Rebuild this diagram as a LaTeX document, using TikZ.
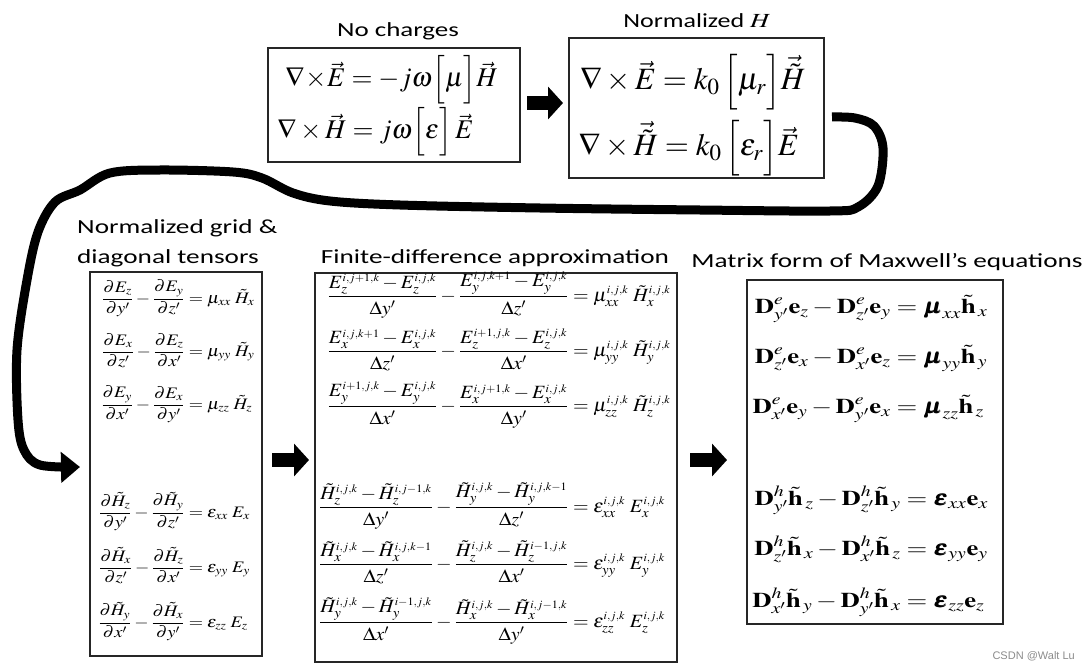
\documentclass[tikz,border=0pt]{standalone}
\usepackage{mathptmx}
\usepackage{amsmath}
\usepackage{bm}
\usepackage{graphicx}
\usepackage[no-math]{fontspec}
\newfontfamily\labfont{Carlito}
\newfontfamily\wmfont{Liberation Sans}
\usetikzlibrary{arrows.meta}
\newcommand\EQ[2]{\makebox[0pt][r]{$\displaystyle #1$}$\displaystyle{}={}$\makebox[0pt][l]{$\displaystyle #2$}}
\newcommand\SEQ[3]{\scalebox{#1}[1]{\EQ{#2}{#3}}}
\newcommand\SEQV[4]{\scalebox{#1}[#2]{\EQ{#3}{#4}}}
\newcommand\SL[2]{\scalebox{#1}[1]{#2}}
\newcommand\sk[1]{{\scriptscriptstyle #1}}
\newcommand\ijk{\sk{i,j,k}}
\newcommand\bD{\mathbf{D}}
\newcommand\bh{\tilde{\mathbf{h}}}
\newcommand\be{\mathbf{e}}
\tikzset{
  box/.style={draw=black!85, line width=1.6pt, inner sep=0pt, outer sep=0pt},
  lab/.style={font=\labfont\fontsize{20}{24}\selectfont, inner sep=0pt},
  eqA/.style={anchor=base, inner sep=0pt, font=\fontsize{27}{32}\selectfont},
  eqB/.style={anchor=base, inner sep=0pt, font=\fontsize{31}{36}\selectfont},
  eqC/.style={anchor=base, inner sep=0pt, font=\fontsize{16}{19}\selectfont},
  eqM/.style={anchor=base, inner sep=0pt, font=\fontsize{17}{20}\selectfont},
  eqD/.style={anchor=base, inner sep=0pt, font=\fontsize{21}{25}\selectfont},
  bigarrow/.style={line width=14pt, -{Triangle[length=15pt,width=32pt]}},
  looparrow/.style={line width=9pt, line join=round, -{Triangle[length=19pt,width=30pt]}},
}
\begin{document}
\begin{tikzpicture}[x=1pt,y=-1pt]
\useasboundingbox (0,0) rectangle (1091,671);
\fill[white] (0,0) rectangle (1091,671);

% boxes
\node[box, minimum width=252pt, minimum height=114pt] (b1) at (394,105) {};
\node[box, minimum width=255pt, minimum height=140pt] (b2) at (696.5,108) {};
\node[box, minimum width=172pt, minimum height=384pt] (lb) at (176,464) {};
\node[box, minimum width=362pt, minimum height=389pt] (mb) at (496,467.5) {};
\node[box, minimum width=256pt, minimum height=344pt] (rb) at (875,452) {};

% labels
\node[lab, anchor=base] (l1) at (398,37) {\SL{1.35}{No charges}};
\node[lab, anchor=base] (l2) at (697,28) {\SL{1.3}{Normalized $H$}};
\node[lab, anchor=base west] (l3a) at (77,233) {\SL{1.36}{Normalized grid \&}};
\node[lab, anchor=base west] (l3b) at (77,263) {\SL{1.36}{diagonal tensors}};
\node[lab, anchor=base] (l4) at (495,263) {\SL{1.36}{Finite-difference approximation}};
\node[lab, anchor=base] (l5) at (887,267) {\SL{1.36}{Matrix form of Maxwell’s equations}};

% box 1
\node[eqA] (e11) at (362,86.75) {\SEQ{1.0}{\nabla\!\times\!\vec{E}}{-j\omega\Big[\mu\Big]\vec{H}}};
\node[eqA] (e12) at (363,138.75) {\SEQ{1.0}{\nabla\times\vec{H}}{j\omega\Big[\varepsilon\Big]\,\vec{E}}};

% box 2
\node[eqB] (e21) at (675,89.75) {\SEQ{1.0}{\nabla\times\vec{E}}{k_0\,\Big[\mu_r\Big]\vec{\tilde{H}}}};
\node[eqB] (e22) at (677,155.75) {\SEQ{1.0}{\nabla\times\vec{\tilde{H}}}{k_0\,\Big[\varepsilon_r\Big]\vec{E}}};

% left box
\node[eqC] (e31) at (196,303) {\SEQ{1.15}{\frac{\partial E_z}{\partial y'}-\frac{\partial E_y}{\partial z'}}{\mu_{xx}\;\tilde{H}_x}};
\node[eqC] (e32) at (196,356) {\SEQ{1.15}{\frac{\partial E_x}{\partial z'}-\frac{\partial E_z}{\partial x'}}{\mu_{yy}\;\tilde{H}_y}};
\node[eqC] (e33) at (196,409) {\SEQ{1.15}{\frac{\partial E_y}{\partial x'}-\frac{\partial E_x}{\partial y'}}{\mu_{zz}\;\tilde{H}_z}};
\node[eqC] (e34) at (196,517) {\SEQ{1.15}{\frac{\partial \tilde{H}_z}{\partial y'}-\frac{\partial \tilde{H}_y}{\partial z'}}{\varepsilon_{xx}\;E_x}};
\node[eqC] (e35) at (196,572) {\SEQ{1.15}{\frac{\partial \tilde{H}_x}{\partial z'}-\frac{\partial \tilde{H}_z}{\partial x'}}{\varepsilon_{yy}\;E_y}};
\node[eqC] (e36) at (196,627) {\SEQ{1.15}{\frac{\partial \tilde{H}_y}{\partial x'}-\frac{\partial \tilde{H}_x}{\partial y'}}{\varepsilon_{zz}\;E_z}};

% middle box
\node[eqM] (e41) at (581,301.5) {\SEQV{1.18}{1.1}{\frac{E_z^{\sk{i,j+1,k}}-E_z^{\ijk}}{\Delta y'}-\frac{E_y^{\sk{i,j,k+1}}-E_y^{\ijk}}{\Delta z'}}{\mu_{xx}^{\ijk}\;\tilde{H}_x^{\ijk}}};
\node[eqM] (e42) at (581,356.5) {\SEQV{1.18}{1.1}{\frac{E_x^{\sk{i,j,k+1}}-E_x^{\ijk}}{\Delta z'}-\frac{E_z^{\sk{i+1,j,k}}-E_z^{\ijk}}{\Delta x'}}{\mu_{yy}^{\ijk}\;\tilde{H}_y^{\ijk}}};
\node[eqM] (e43) at (581,411.5) {\SEQV{1.18}{1.1}{\frac{E_y^{\sk{i+1,j,k}}-E_y^{\ijk}}{\Delta x'}-\frac{E_x^{\sk{i,j+1,k}}-E_x^{\ijk}}{\Delta y'}}{\mu_{zz}^{\ijk}\;\tilde{H}_z^{\ijk}}};
\node[eqM] (e44) at (581,512.5) {\SEQV{1.18}{1.1}{\frac{\tilde{H}_z^{\ijk}-\tilde{H}_z^{\sk{i,j-1,k}}}{\Delta y'}-\frac{\tilde{H}_y^{\ijk}-\tilde{H}_y^{\sk{i,j,k-1}}}{\Delta z'}}{\varepsilon_{xx}^{\ijk}\;E_x^{\ijk}}};
\node[eqM] (e45) at (581,569.5) {\SEQV{1.18}{1.1}{\frac{\tilde{H}_x^{\ijk}-\tilde{H}_x^{\sk{i,j,k-1}}}{\Delta z'}-\frac{\tilde{H}_z^{\ijk}-\tilde{H}_z^{\sk{i-1,j,k}}}{\Delta x'}}{\varepsilon_{yy}^{\ijk}\;E_y^{\ijk}}};
\node[eqM] (e46) at (581,627.5) {\SEQV{1.18}{1.1}{\frac{\tilde{H}_y^{\ijk}-\tilde{H}_y^{\sk{i-1,j,k}}}{\Delta x'}-\frac{\tilde{H}_x^{\ijk}-\tilde{H}_x^{\sk{i,j-1,k}}}{\Delta y'}}{\varepsilon_{zz}^{\ijk}\;E_z^{\ijk}}};

% right box
\node[eqD] (e51) at (907,313.25) {\SEQ{1.27}{\bD^{e}_{y'}\be_z-\bD^{e}_{z'}\be_y}{\bm{\mu}_{xx}\bh_{\,x}}};
\node[eqD] (e52) at (907,363.25) {\SEQ{1.27}{\bD^{e}_{z'}\be_x-\bD^{e}_{x'}\be_z}{\bm{\mu}_{yy}\bh_{\,y}}};
\node[eqD] (e53) at (907,413.25) {\SEQ{1.27}{\bD^{e}_{x'}\be_y-\bD^{e}_{y'}\be_x}{\bm{\mu}_{zz}\bh_{\,z}}};
\node[eqD] (e54) at (917,505.25) {\SEQ{1.27}{\bD^{h}_{y'}\bh_{\,z}-\bD^{h}_{z'}\bh_{\,y}}{\bm{\varepsilon}_{xx}\be_x}};
\node[eqD] (e55) at (917,555.25) {\SEQ{1.27}{\bD^{h}_{z'}\bh_{\,x}-\bD^{h}_{x'}\bh_{\,z}}{\bm{\varepsilon}_{yy}\be_y}};
\node[eqD] (e56) at (917,607.25) {\SEQ{1.27}{\bD^{h}_{x'}\bh_{\,y}-\bD^{h}_{y'}\bh_{\,x}}{\bm{\varepsilon}_{zz}\be_z}};

% straight block arrows
\draw[bigarrow] ([xshift=7pt,yshift=2pt]b1.east) -- ([xshift=-6pt,yshift=2pt]b1.east -| b2.west);
\draw[bigarrow] ([xshift=10pt,yshift=4pt]lb.east) -- ([xshift=-6pt,yshift=4pt]lb.east -| mb.west);
\draw[bigarrow] ([xshift=13pt,yshift=7.5pt]mb.east) -- ([xshift=-20pt,yshift=7.5pt]mb.east -| rb.west);

% hand-drawn loop arrow
\coordinate (cs) at ([xshift=8pt,yshift=-9pt]b2.east);
\coordinate (ce) at ([xshift=-10pt,yshift=-3pt]lb.west);
\draw[looparrow] plot[smooth, tension=0.55] coordinates {(cs) (855,118) (874,126) (883,148) (878,186) (858,207) (830,211) (700,210) (540,208) (400,205) (330,201) (293,193) (262,178) (233,172) (160,170) (110,173) (80,190) (55,202) (38,232) (27,280) (17,350) (18,420) (24,450) (40,465) (ce)};

% watermark
\node[font=\wmfont\fontsize{11}{13}\selectfont, text=black!45, anchor=base east, inner sep=0pt] (wm) at (1075,659) {CSDN @Walt Lu};
\end{tikzpicture}
\end{document}
